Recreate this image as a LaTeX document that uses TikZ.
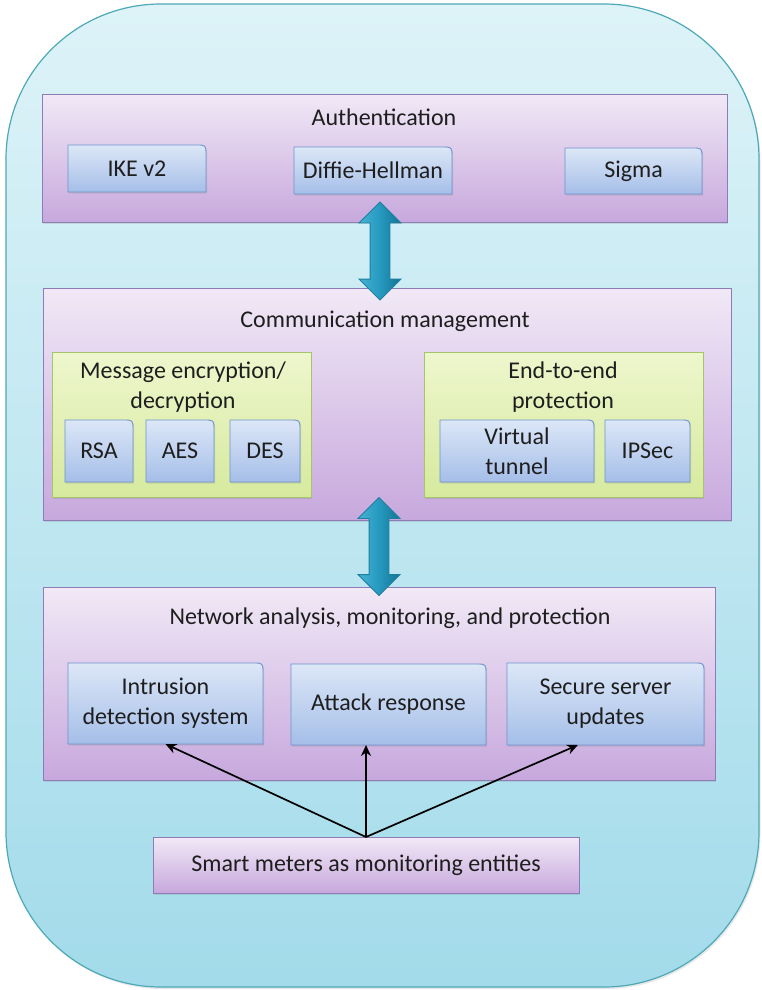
\documentclass[tikz,border=0pt]{standalone}
\usepackage{fontspec}
\setmainfont{Carlito}
\usetikzlibrary{shapes.arrows,shadows,calc,arrows.meta}

\definecolor{outerTop}{HTML}{DDF3F8}
\definecolor{outerBot}{HTML}{A3DBEA}
\definecolor{outerLine}{HTML}{4DA9B7}
\definecolor{panelTop}{HTML}{F1E9F6}
\definecolor{panelBot}{HTML}{C7A8DD}
\definecolor{panelLine}{HTML}{8F7CB6}
\definecolor{groupTop}{HTML}{EEF6CD}
\definecolor{groupBot}{HTML}{D6EA9E}
\definecolor{groupLine}{HTML}{A6C46A}
\definecolor{tabTop}{HTML}{DCE7F7}
\definecolor{tabBot}{HTML}{A5BEE8}
\definecolor{tabLine}{HTML}{6D93CB}
\definecolor{arrLeft}{HTML}{45B3D4}
\definecolor{arrMid}{HTML}{2699BF}
\definecolor{arrRight}{HTML}{157494}
\definecolor{arrLine}{HTML}{1C7F9F}
\definecolor{ink}{HTML}{1E1E1E}

\tikzset{
  softshadow/.style={drop shadow={opacity=0.22, shadow xshift=1.2pt, shadow yshift=-1.6pt}},
  framebox/.style={draw=outerLine, line width=1.2pt, top color=outerTop, bottom color=outerBot,
    rounded corners=155pt, inner sep=0pt, outer sep=0pt,
    drop shadow={opacity=0.18, shadow xshift=1.5pt, shadow yshift=-2pt}},
  panelbox/.style={draw=panelLine, line width=0.9pt, top color=panelTop, bottom color=panelBot,
    softshadow, inner sep=0pt, outer sep=0pt},
  groupbox/.style={draw=groupLine, line width=0.9pt, top color=groupTop, bottom color=groupBot,
    softshadow, inner sep=0pt, outer sep=0pt},
  tabfill/.style={draw=tabLine, line width=0.9pt, top color=tabTop, bottom color=tabBot, softshadow},
  txt/.style={text=ink, font=\fontsize{24}{30}\selectfont, align=center, inner sep=0pt, outer sep=0pt},
  dblarrow/.style={double arrow, double arrow head extend=11pt, double arrow head indent=0pt,
    inner xsep=0pt, inner ysep=9.5pt, minimum height=98pt, minimum width=41pt, rotate=90,
    draw=arrLine, line width=0.8pt, left color=arrLeft, right color=arrRight, middle color=arrMid},
  feedarrow/.style={-{Stealth[length=11pt,width=10pt]}, line width=1.7pt, draw=black},
}

% panel with a flat frame: name, x1, y1, x2, y2, style, text
\newcommand\panelnode[7]{%
  \node[#6, minimum width={(#4)-(#2)}, minimum height={(#5)-(#3)}]
    (#1) at ({((#2)+(#4))/2},{((#3)+(#5))/2}) {#7};%
}
% item box whose top right corner is rounded: name, x1, y1, x2, y2, text
\newcommand\tabnode[6]{%
  \shade[tabfill] (#2,#5) -- (#2,#3) -- ({(#4)-10},#3) .. controls (#4,#3) .. (#4,{(#3)+10})
    -- (#4,#5) -- cycle;
  \node[txt, minimum width={(#4)-(#2)}, minimum height={(#5)-(#3)}]
    (#1) at ({((#2)+(#4))/2},{((#3)+(#5))/2}) {#6};%
}

\begin{document}
\begin{tikzpicture}[x=1pt,y=-1pt]
  \useasboundingbox (0,0) rectangle (761,990);

  % outer frame
  \node[framebox, minimum width=753, minimum height=983] (frame) at (382.5,495.5) {};

  % layers
  \panelnode{auth}{42}{94}{727}{222}{panelbox}{}
  \panelnode{comm}{43}{288}{731}{520}{panelbox}{}
  \panelnode{net}{43}{587}{715}{780}{panelbox}{}
  \panelnode{smart}{153}{837}{579}{893}{panelbox,txt}{Smart meters as monitoring entities}

  \node[txt] (authT) at (384,117) {Authentication};
  \node[txt] (commT) at (385,321) {Communication management};
  \node[txt] (netT) at (390,618) {Network analysis, monitoring, and protection};

  % authentication methods
  \tabnode{ike}{68}{145}{206}{192}{IKE v2}
  \tabnode{dh}{294}{147}{452}{194}{Diffie-Hellman}
  \tabnode{sigma}{565}{148}{702}{194}{Sigma}

  % communication groups
  \panelnode{msg}{52}{352}{311}{497}{groupbox}{}
  \panelnode{e2e}{424}{352}{703}{497}{groupbox}{}
  \node[txt] (msgT) at (183,387) {Message encryption/\\decryption};
  \node[txt] (e2eT) at (563,387) {End-to-end\\protection};

  \tabnode{rsa}{65}{420}{133}{482}{RSA}
  \tabnode{aes}{146}{420}{214}{482}{AES}
  \tabnode{des}{230}{420}{300}{482}{DES}
  \tabnode{vt}{440}{420}{594}{482}{Virtual\\tunnel}
  \tabnode{ipsec}{605}{420}{690}{482}{IPSec}

  % network protection functions
  \tabnode{ids}{68}{663}{263}{744}{Intrusion\\detection system}
  \tabnode{ar}{291}{664}{486}{745}{Attack response}
  \tabnode{su}{507}{663}{704}{745}{Secure server\\updates}

  % links between layers
  \node[dblarrow] (link1) at (380,251) {};
  \node[dblarrow] (link2) at (379,546.5) {};

  % monitoring feeds
  \draw[feedarrow] (smart.north) -- (ids.south);
  \draw[feedarrow] (smart.north) -- (smart.north |- ar.south);
  \draw[feedarrow] (smart.north) -- ($(su.south west)!0.36!(su.south east)$);
\end{tikzpicture}
\end{document}
